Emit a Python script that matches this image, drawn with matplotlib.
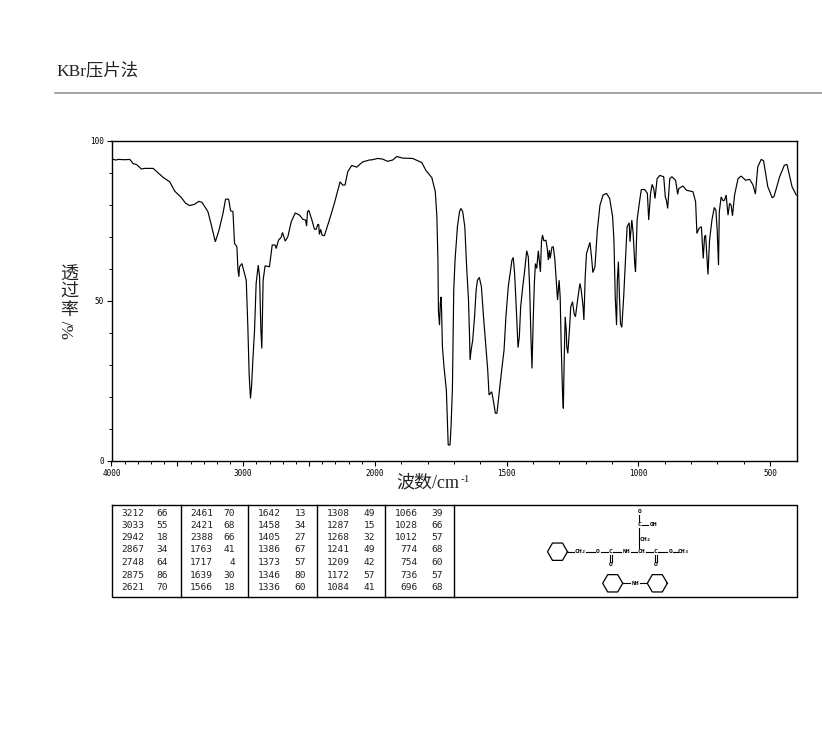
import numpy as np
import matplotlib
matplotlib.use("Agg")
import matplotlib.pyplot as plt

wavenumber = [4000,3967,3949,3899,3861,3836,3810,3773,3747,3684,3646,3608,3558,3520,3470,3437,3407,3369,3338,3313,
 3268,3242,3212,3184,3154,3134,3111,3096,3078,3066,3048,3040,3033,3028,3010,2997,2977,2965,2955,2945,
 2937,2927,2914,2902,2886,2876,2866,2859,2849,2834,2801,2780,2758,2750,2732,2712,2702,2681,2661,2636,
 2605,2572,2547,2527,2519,2512,2502,2479,2459,2446,2434,2427,2422,2412,2402,2384,2346,2308,2265,2245,
 2227,2207,2177,2139,2094,2044,2018,1990,1971,1952,1933,1917,1895,1857,1838,1822,1807,1784,1771,1765,
 1761,1759,1755,1752,1749,1747,1744,1738,1729,1722,1715,1711,1706,1703,1701,1696,1687,1679,1674,1667,
 1659,1652,1645,1641,1639,1635,1629,1622,1616,1611,1604,1596,1588,1580,1572,1567,1557,1551,1543,1537,
 1530,1519,1510,1503,1494,1487,1480,1475,1470,1465,1460,1457,1452,1447,1439,1433,1424,1418,1413,1408,
 1404,1399,1395,1391,1386,1380,1376,1372,1368,1364,1359,1351,1346,1342,1338,1335,1328,1323,1317,1311,
 1307,1301,1297,1293,1288,1285,1282,1278,1274,1272,1268,1261,1257,1250,1244,1239,1231,1222,1217,1210,
 1207,1202,1197,1184,1178,1173,1165,1156,1146,1134,1121,1109,1098,1093,1088,1083,1080,1076,1072,1068,
 1063,1056,1049,1043,1035,1032,1025,1020,1014,1011,1005,995,989,976,966,961,954,948,942,937,
 929,919,904,898,894,889,881,873,859,851,847,831,818,793,783,778,770,761,754,749,
 745,740,736,730,721,712,706,701,696,693,686,679,673,667,660,654,648,643,635,622,
 610,593,578,565,556,547,534,525,509,492,485,464,446,436,417,401]
transmittance = [94.3,93.9,94.1,94.0,94.1,92.8,92.5,91.1,91.3,91.3,89.9,88.5,87.1,84.2,82.2,80.4,79.7,80.1,81.0,80.7,
 77.8,73.6,68.4,72.0,77.2,81.7,81.7,78.1,77.8,67.9,66.8,59.6,57.5,60.6,61.6,59.6,56.4,41.9,26.8,19.5,
 23.2,31.5,40.9,55.4,61.1,57.5,40.9,35.1,56.4,60.9,60.6,67.4,67.4,66.3,68.9,69.8,71.3,68.6,70.0,74.6,
 77.4,76.7,75.4,75.2,73.3,77.8,78.2,75.2,72.3,72.3,73.8,73.8,70.7,72.3,70.5,70.3,75.2,80.4,87.1,86.1,
 86.1,90.2,92.2,91.7,93.3,93.9,94.0,94.4,94.2,93.5,93.9,95.0,94.5,94.4,93.7,93.1,90.7,88.4,84.0,76.2,
 62.7,46.6,42.4,49.2,51.2,46.6,35.7,29.4,22.1,5.0,5.0,11.2,22.7,40.9,53.3,62.7,73.1,77.8,78.8,77.8,
 73.1,60.6,50.2,38.8,31.5,34.6,37.7,45.0,53.3,56.4,57.3,54.4,45.0,36.7,28.4,20.6,21.6,19.0,14.9,14.9,
 20.1,28.4,34.6,45.0,54.4,58.5,62.7,63.5,58.5,50.2,40.9,35.4,38.8,48.1,54.4,58.5,65.6,63.7,54.4,38.8,
 28.9,45.0,55.4,61.6,60.1,65.6,62.2,59.0,68.4,70.5,68.7,68.9,66.3,62.7,65.8,63.2,66.8,66.8,62.7,55.4,
 50.2,56.4,51.2,35.7,21.1,16.4,30.5,45.0,40.9,35.7,33.6,41.9,48.1,49.7,46.0,45.0,50.2,55.4,53.3,48.1,
 44.0,57.5,64.8,68.2,63.7,58.8,60.6,72.0,79.8,83.0,83.5,81.9,76.2,68.9,51.2,42.4,56.4,62.2,51.2,42.9,
 41.7,51.2,62.7,73.1,74.3,68.4,75.2,71.0,61.6,59.0,75.2,81.4,84.7,84.7,83.5,75.2,83.5,86.3,85.0,81.9,
 88.1,89.1,88.7,82.4,81.4,78.8,88.1,88.7,87.6,83.2,85.0,85.8,84.5,84.0,80.9,71.0,72.6,73.1,63.2,70.0,
 70.5,63.7,58.2,68.9,75.2,79.1,78.3,72.0,61.1,77.8,82.4,81.2,81.4,83.0,76.7,80.4,79.8,76.5,83.0,88.1,
 88.9,87.6,87.9,86.1,83.3,91.8,94.1,93.7,85.6,82.1,82.6,88.7,92.3,92.5,85.6,83.0]

peak_wn = [
 [3212,3033,2942,2867,2748,2875,2621],
 [2461,2421,2388,1763,1717,1639,1566],
 [1642,1458,1405,1386,1373,1346,1336],
 [1308,1287,1268,1241,1209,1172,1084],
 [1066,1028,1012,774,754,736,696]]
peak_t = [
 [66,55,18,34,64,86,70],
 [70,68,66,41,4,30,18],
 [13,34,27,67,57,80,60],
 [49,15,32,49,42,57,41],
 [39,66,57,68,60,57,68]]

x_major = [4000,3500,3000,2500,2000,1500,1000,500]
x_labels = ["4000","","3000","","2000","1500","1000","500"]
y_major = [0,50,100]

def fwd(x):
    x = np.asarray(x, dtype=float)
    return np.where(x <= 2000, x, 2000 + (x - 2000) / 2)

def inv(v):
    v = np.asarray(v, dtype=float)
    return np.where(v <= 2000, v, 2000 + (v - 2000) * 2)

W, H = 822, 737
fig = plt.figure(figsize=(W / 100, H / 100), dpi=100, facecolor="white")
ax = fig.add_axes([111.5 / W, (H - 461) / H, 685 / W, 320.5 / H])
ax.set_xscale("function", functions=(fwd, inv))
ax.plot(wavenumber, transmittance, color="black", lw=0.85, solid_joinstyle="miter")
ax.set_xlim(4000, 400)
ax.set_ylim(0, 100)
ax.set_xticks(x_major)
ax.set_xticklabels(x_labels, family="DejaVu Sans Mono", fontsize=5.5)
ax.set_xticks(np.arange(500, 4000, 100), minor=True)
ax.set_yticks(y_major)
ax.set_yticklabels([str(v) for v in y_major], family="DejaVu Sans Mono", fontsize=5.5)
ax.set_yticks(np.arange(0, 101, 10), minor=True)
ax.tick_params(axis="both", which="major", length=3.5, width=0.8, pad=2, color="black")
ax.tick_params(axis="both", which="minor", length=2.0, width=0.7)
for s in ax.spines.values():
    s.set_linewidth(1.0)

ov = fig.add_axes([0, 0, 1, 1], zorder=5)
ov.set_xlim(0, W)
ov.set_ylim(H, 0)
ov.axis("off")

mixed = ["Liberation Serif", "Noto Sans CJK SC"]
ink = "#222222"
ov.text(56, 71, "KBr压片法", family=mixed, fontsize=12.5, va="center", ha="left", color=ink)
ov.plot([55, 822], [93, 93], color="#8c8c8c", lw=1.1)

for yy, ch in [(275, "透"), (292, "过"), (310, "率")]:
    ov.text(69, yy, ch, family="Noto Sans CJK SC", fontsize=13, ha="center", va="center", color=ink)
ov.text(69, 329, "%/", family="Liberation Serif", fontsize=12.5, rotation=90, ha="center", va="center", color=ink)

ov.text(396, 483, "波数/cm", family=mixed, fontsize=13, ha="left", va="center", color=ink)
ov.text(461, 479, "-1", family="Liberation Serif", fontsize=8, ha="left", va="center", color=ink)

# peak table
ov.plot([111.5, 796.5, 796.5, 111.5, 111.5], [504.5, 504.5, 596.5, 596.5, 504.5], color="black", lw=1.0)
for sx in [181, 248, 317, 385, 454]:
    ov.plot([sx, sx], [504.5, 596.5], color="black", lw=1.0)
wn_right = [144, 213, 281, 350, 418]
t_right = [168, 235, 306, 375, 443]
rows_y = [513.3, 525.5, 537.8, 550, 562.3, 575, 587.5]
for c in range(5):
    for r, y in enumerate(rows_y):
        ov.text(wn_right[c], y, str(peak_wn[c][r]), family="DejaVu Sans Mono", fontsize=6.8,
                ha="right", va="center", color=ink)
        ov.text(t_right[c], y, str(peak_t[c][r]), family="DejaVu Sans Mono", fontsize=6.8,
                ha="right", va="center", color=ink)

# structure drawing
def hexagon(cx, cy, r):
    a = np.deg2rad(np.arange(0, 361, 60))
    ov.plot(cx + r * np.cos(a), cy + r * np.sin(a), color="black", lw=0.9)

def bond(x0, y0, x1, y1):
    ov.plot([x0, x1], [y0, y1], color="black", lw=0.8)

def atom(x, y, s):
    ov.text(x, y, s, family="DejaVu Sans Mono", fontsize=4.6, ha="center", va="center",
            color="black", fontweight="bold")

hexagon(557.5, 551.7, 10)
hexagon(612.7, 583.3, 10)
hexagon(657.3, 583.3, 10)
main_y = 551.7
bond(567.5, main_y, 574, main_y)
bond(586, main_y, 595, main_y)
bond(601, main_y, 608, main_y)
bond(613, main_y, 621, main_y)
bond(631, main_y, 637, main_y)
bond(646, main_y, 653, main_y)
bond(658, main_y, 667, main_y)
bond(673, main_y, 678, main_y)
bond(639.3, 514.5, 639.3, 522)
bond(642, 525, 648, 525)
bond(639.3, 528, 639.3, 548)
for bx in [609.8, 611.6, 654.8, 656.6]:
    bond(bx, 554.5, bx, 562)
bond(622.7, 583.3, 630, 583.3)
bond(640, 583.3, 647.3, 583.3)
for x, y, s in [(580, main_y, "CH₂"), (598, main_y, "O"), (610.7, main_y, "C"), (626, main_y, "NH"),
                (641.7, main_y, "CH"), (655.7, main_y, "C"), (670.7, main_y, "O"), (683, main_y, "CH₃"),
                (639.3, 525, "C"), (639.3, 511.7, "O"), (654, 525, "OH"), (645, 539.3, "CH₂"),
                (610.7, 565, "O"), (655.7, 565, "O"), (635, 583.3, "NH")]:
    atom(x, y, s)

fig.savefig("out.png", dpi=100, facecolor="white")
